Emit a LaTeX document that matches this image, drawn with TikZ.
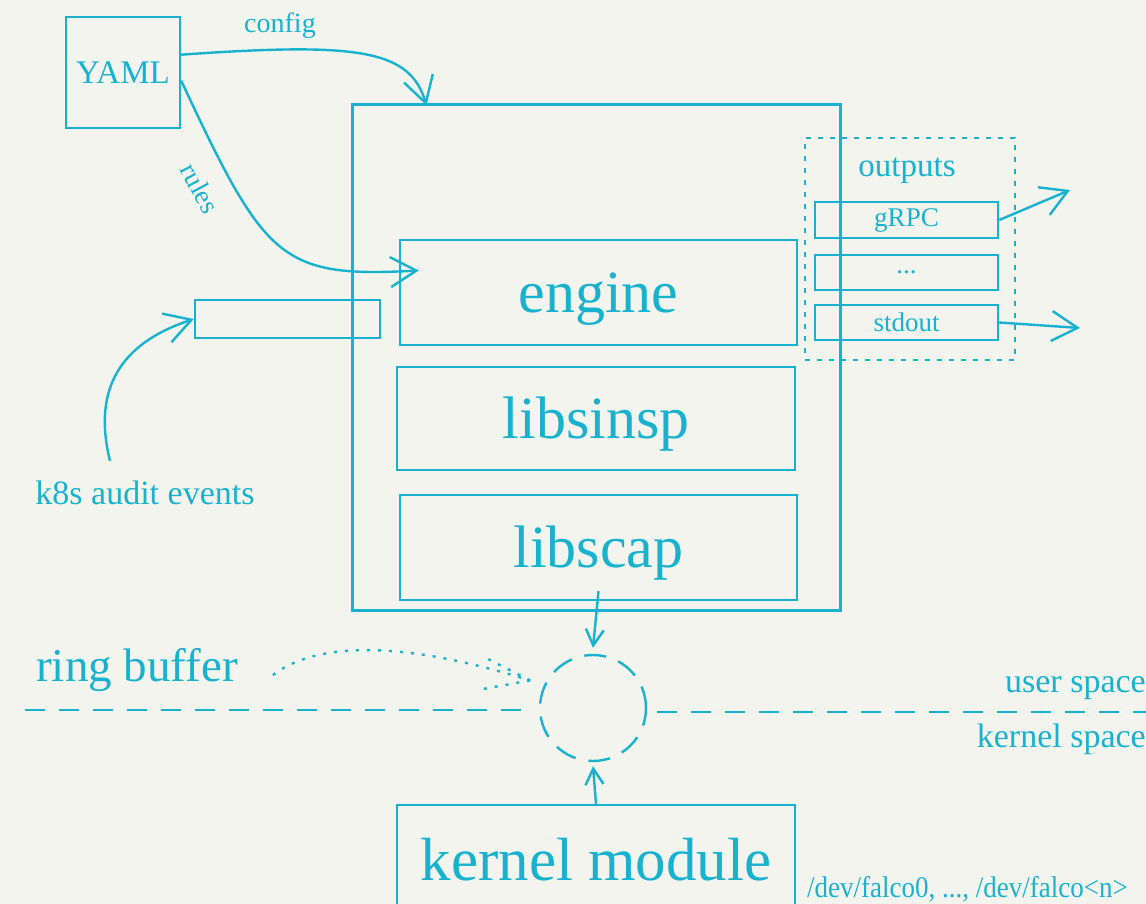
\documentclass[tikz,border=0pt]{standalone}
\usepackage{fontspec}
\setmainfont{Liberation Serif}
\usetikzlibrary{arrows.meta,calc}
\definecolor{cy}{RGB}{24,178,206}
\definecolor{bg}{RGB}{243,244,238}
\newcommand\myfs[1]{\fontsize{#1}{#1}\selectfont}
\begin{document}
\begin{tikzpicture}[x=1pt,y=-1pt,
  ln/.style={draw=cy,line width=2.4pt},
  box/.style={ln,rectangle,inner sep=0pt,text=cy},
  big/.style={font=\myfs{60},text height=43pt,text depth=4pt},
  lbl/.style={text=cy,inner sep=0pt},
  arr/.style={ln,-{Straight Barb[length=26pt,width=30pt,line width=2.4pt]}},
  sarr/.style={ln,-{Straight Barb[length=16pt,width=18pt,line width=2.4pt]}},
  dashline/.style={ln,dash pattern=on 20pt off 14pt},
  dotline/.style={ln,dash pattern=on 3pt off 8pt},
]
\fill[bg] (0,0) rectangle (1146,904);
\useasboundingbox (0,0) rectangle (1146,904);

% boxes
\node[box,minimum width=114pt,minimum height=111pt,font=\myfs{33}] (yaml) at (123,72.5) {YAML};
\node[box,line width=3pt,minimum width=488pt,minimum height=505pt] (main) at (596,357.5) {};
\node[box,big,minimum width=397pt,minimum height=105pt] (engine) at (598.5,292.5) {engine};
\node[box,big,minimum width=398pt,minimum height=103pt] (libsinsp) at (596,418.5) {libsinsp};
\node[box,big,minimum width=397pt,minimum height=105pt] (libscap) at (598.5,547.5) {libscap};
\node[box,minimum width=185pt,minimum height=38pt] (inbox) at (287.5,319) {};
\node[box,dash pattern=on 5pt off 7pt,minimum width=210pt,minimum height=222pt] (outputs) at (910,249) {};
\node[box,minimum width=183pt,minimum height=36pt,font=\myfs{27}] (grpc) at (906.5,220) {gRPC};
\node[box,minimum width=183pt,minimum height=35pt,font=\myfs{27}] (dots) at (906.5,272.5) {...};
\node[box,minimum width=183pt,minimum height=35pt,font=\myfs{27}] (stdout) at (906.5,322.5) {stdout};
\node[box,circle,dash pattern=on 22pt off 13pt,minimum size=106pt] (rb) at (593,708) {};
\node[box,minimum width=398pt,minimum height=110pt,font=\myfs{61}] (kernel) at (596,860) {kernel module};

% labels
\node[lbl,font=\myfs{28}] (config) at (280,26) {config};
\node[lbl,font=\myfs{27},rotate=-62] (rules) at (200,188) {rules};
\node[lbl,font=\myfs{33}] (outlbl) at (907,171) {outputs};
\node[lbl,font=\myfs{34}] (k8s) at (145,493) {k8s audit events};
\node[lbl,font=\myfs{47}] (ring) at (137,670) {ring buffer};
\node[lbl,font=\myfs{34},anchor=east] (user) at (1146,688) {user space};
\node[lbl,font=\myfs{34},anchor=east] (kspace) at (1146,739) {kernel space};
\node[lbl,font=\myfs{30},xscale=0.9,anchor=base west] (dev) at (807,897) {/dev/falco0, ..., /dev/falco<n>};

% coordinates
\coordinate (cfgEnd) at ($(main.north west)+(76,2)$);
\coordinate (rulesEnd) at ($(engine.west)+(20,-22)$);
\coordinate (k8sStart) at ($(k8s.north)+(-35,-20)$);
\coordinate (grpcEnd) at (1070,190);
\coordinate (stdoutEnd) at (1080,328);
\coordinate (ul) at (25,710);
\coordinate (ur) at (1146,712);
\coordinate (ringStart) at ($(ring.east)+(35,5)$);
\coordinate (ringTip) at ($(rb.160)+(-12,-9)$);

% connectors
\draw[arr] (yaml.17) .. controls (360,42) and (410,50) .. (cfgEnd);
\draw[arr] (yaml.-8) .. controls (265,260) and (280,278) .. (rulesEnd);
\draw[arr] (k8sStart) .. controls (90,380) and (130,340) .. (inbox.west);
\draw[arr] (grpc.east) -- (grpcEnd);
\draw[arr] (stdout.east) -- (stdoutEnd);
\draw[sarr] ($(libscap.south)+(0,-10)$) -- ($(rb.north)+(0,-6)$);
\draw[sarr] (kernel.north) -- ($(rb.south)+(0,4)$);
\draw[dotline] (ringStart) .. controls (330,632) and (440,652) .. (ringTip);
\draw[dotline] (ringTip) -- ++(-45,-23);
\draw[dotline] (ringTip) -- ++(-50,9);
\draw[dashline] (ul) -- ($(rb.west)+(-18,2)$);
\draw[dashline] ($(rb.east)+(10,4)$) -- (ur);
\end{tikzpicture}
\end{document}
